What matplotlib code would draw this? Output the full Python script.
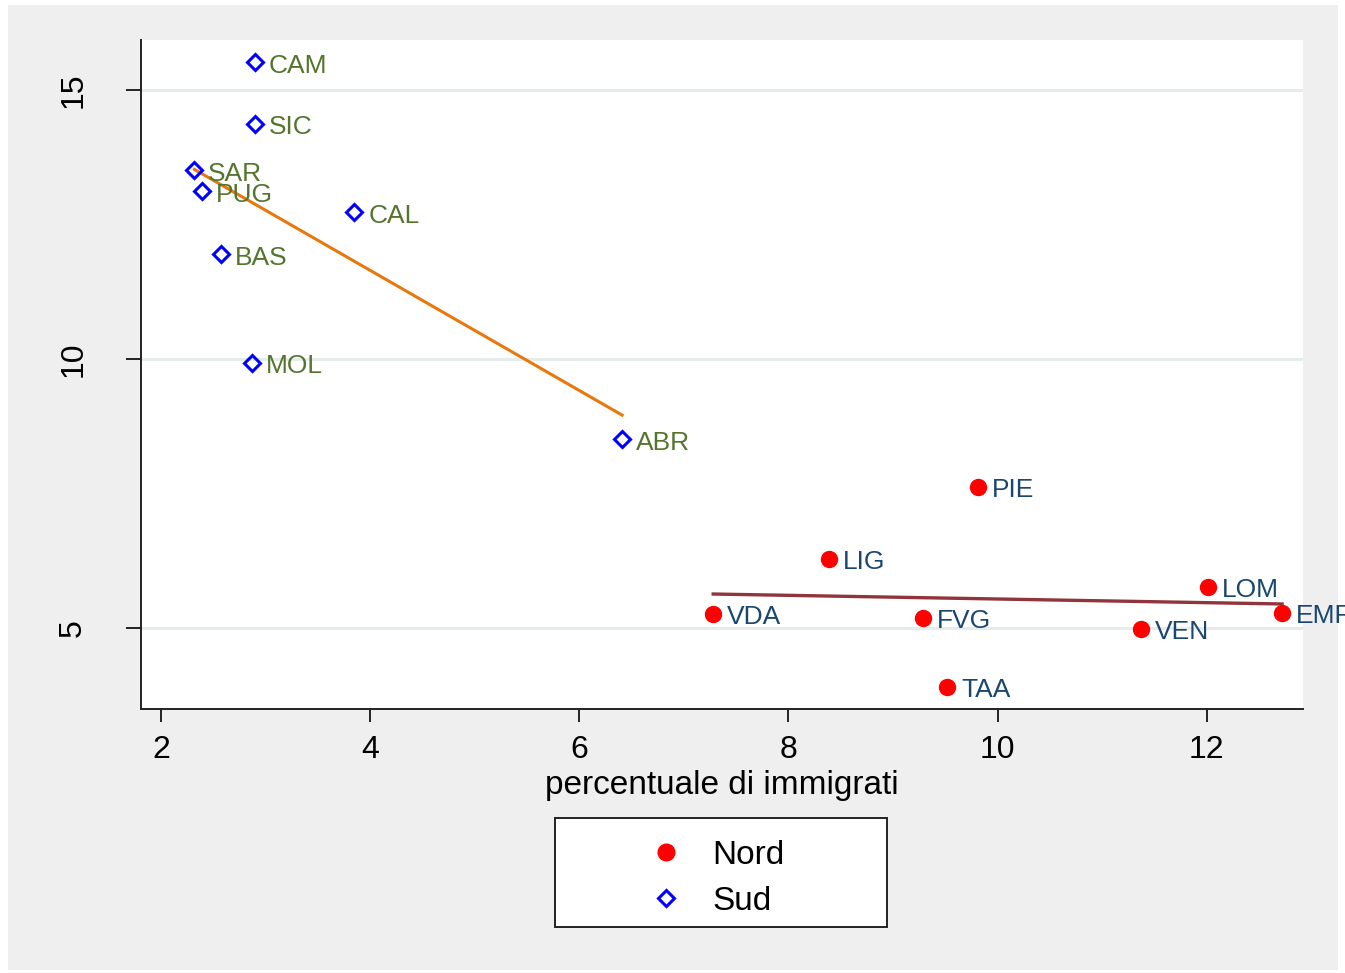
import numpy as np
import matplotlib
matplotlib.use("Agg")
import matplotlib.pyplot as plt
from matplotlib.patches import Rectangle
from matplotlib.lines import Line2D

plt.rcParams['font.family'] = ['Liberation Sans', 'DejaVu Sans']

# regions of the north
nord_lab = ["PIE", "LIG", "LOM", "EMR", "VDA", "FVG", "VEN", "TAA"]
nord_x = [9.81, 8.39, 12.01, 12.72, 7.28, 9.29, 11.37, 9.52]
nord_y = [7.62, 6.28, 5.76, 5.28, 5.26, 5.19, 4.98, 3.90]

# regions of the south
sud_lab = ["CAM", "SIC", "SAR", "PUG", "CAL", "BAS", "MOL", "ABR"]
sud_x = [2.90, 2.90, 2.32, 2.39, 3.85, 2.57, 2.87, 6.41]
sud_y = [15.52, 14.37, 13.51, 13.12, 12.73, 11.95, 9.93, 8.51]

x_ticks = [2, 4, 6, 8, 10, 12]
y_ticks = [5, 10, 15]

NAVY = "#1a476f"
MAROON = "#90353b"
GREEN = "#55752f"
ORANGE = "#e8780c"
BG = "#efefef"

W, H = 1345, 973
fig = plt.figure(figsize=(W / 100, H / 100), dpi=100, facecolor="white")
fig.patches.append(Rectangle((8 / W, 3 / H), 1330 / W, 965 / H, transform=fig.transFigure,
                             facecolor=BG, edgecolor="none", zorder=-10))

ax = fig.add_axes([141 / W, 1 - 709 / H, (1303 - 141) / W, (709 - 40) / H])
ax.set_facecolor("white")
ax.set_xlim(1.809, 12.92)
ax.set_ylim(3.49, 15.93)

for s in ["top", "right"]:
    ax.spines[s].set_visible(False)
for s in ["left", "bottom"]:
    ax.spines[s].set_linewidth(1.4)
    ax.spines[s].set_color("#222222")

ax.set_xticks(x_ticks)
ax.set_yticks(y_ticks)
ax.tick_params(axis="x", length=9, width=1.2, pad=10, labelsize=23)
ax.tick_params(axis="y", length=11, width=1.2, pad=27, labelsize=23)
for t in ax.get_yticklabels():
    t.set_rotation(90)
    t.set_va("center")
ax.yaxis.grid(True, color="#e4ecec", linewidth=2.2)
ax.set_axisbelow(True)
ax.set_xlabel("percentuale di immigrati", fontsize=24, labelpad=3)


def fit_line(xs, ys):
    xs = np.asarray(xs)
    b, a = np.polyfit(xs, ys, 1)
    xx = np.array([xs.min(), xs.max()])
    return xx, a + b * xx


fx, fy = fit_line(sud_x, sud_y)
ax.plot(fx, fy, color=ORANGE, lw=2.2, zorder=2)
fx, fy = fit_line(nord_x, nord_y)
ax.plot(fx, fy, color=MAROON, lw=2.4, zorder=2)

ax.plot(nord_x, nord_y, "o", ms=11.5, color="red", mec="red", ls="none", zorder=3)
ax.plot(sud_x, sud_y, "D", ms=8.3, mfc="none", mec="blue", mew=2.2, ls="none", zorder=3)

for lab, x, y in zip(nord_lab, nord_x, nord_y):
    ax.annotate(lab, (x, y), xytext=(10, -2.5), textcoords="offset points",
                fontsize=19, color=NAVY, va="center", ha="left", annotation_clip=False)
for lab, x, y in zip(sud_lab, sud_x, sud_y):
    ax.annotate(lab, (x, y), xytext=(10, -2.5), textcoords="offset points",
                fontsize=19, color=GREEN, va="center", ha="left", annotation_clip=False)

# legend box
fig.patches.append(Rectangle((555 / W, 1 - 927 / H), 332 / W, 109 / H, transform=fig.transFigure,
                             facecolor="white", edgecolor="#222222", lw=1.4, zorder=1))
handles = [
    Line2D([], [], marker="o", ls="none", ms=12, color="red"),
    Line2D([], [], marker="D", ls="none", ms=8.3, mfc="none", mec="blue", mew=2.2),
]
leg = fig.legend(handles, ["Nord", "Sud"], loc="center",
                 bbox_to_anchor=(717 / W, 1 - 878 / H), frameon=False,
                 fontsize=24, handlelength=1.0, handletextpad=0.9, labelspacing=0.45)
leg.set_zorder(5)

fig.savefig("out.png", dpi=100, facecolor=fig.get_facecolor())
